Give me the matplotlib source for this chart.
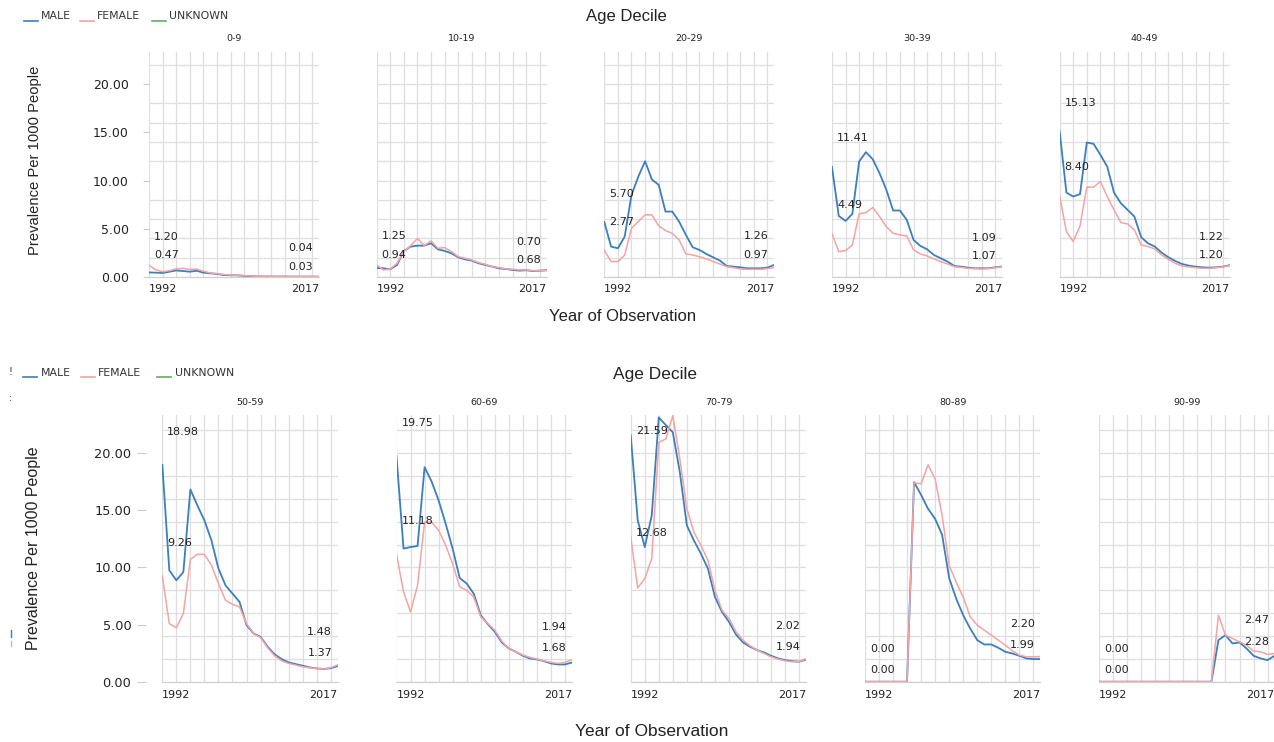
import numpy as np
import matplotlib.pyplot as plt
from matplotlib.lines import Line2D
from matplotlib.ticker import MultipleLocator

# ---- data -------------------------------------------------------------
years = np.arange(1992, 2018)
deciles_top = ['0-9', '10-19', '20-29', '30-39', '40-49']
deciles_bottom = ['50-59', '60-69', '70-79', '80-89', '90-99']
legend_names = ['MALE', 'FEMALE', 'UNKNOWN']
y_ticks = [0, 5, 10, 15, 20]

male_0_9 = [0.47, 0.45, 0.42, 0.55, 0.68, 0.62, 0.55, 0.65, 0.45, 0.38, 0.32, 0.20, 0.18,
            0.17, 0.12, 0.08, 0.06, 0.05, 0.05, 0.05, 0.05, 0.04, 0.04, 0.04, 0.04, 0.03]
female_0_9 = [1.20, 0.75, 0.55, 0.65, 0.85, 0.90, 0.78, 0.82, 0.60, 0.42, 0.35, 0.25, 0.20,
              0.18, 0.14, 0.10, 0.07, 0.06, 0.05, 0.05, 0.05, 0.05, 0.04, 0.04, 0.04, 0.04]
male_10_19 = [0.94, 0.90, 0.80, 1.25, 2.70, 3.15, 3.25, 3.25, 3.50, 2.87, 2.70, 2.46, 2.04,
              1.83, 1.70, 1.42, 1.25, 1.07, 0.90, 0.83, 0.73, 0.66, 0.70, 0.62, 0.66, 0.70]
female_10_19 = [1.25, 0.73, 0.83, 1.42, 2.63, 3.25, 4.00, 3.25, 3.74, 2.98, 3.05, 2.63, 2.11,
                1.94, 1.76, 1.49, 1.31, 1.07, 0.97, 0.83, 0.80, 0.73, 0.73, 0.66, 0.66, 0.68]
male_20_29 = [5.70, 3.15, 2.98, 4.19, 8.50, 10.40, 12.00, 10.10, 9.55, 6.78, 6.78, 5.74, 4.36,
              3.08, 2.80, 2.39, 2.04, 1.70, 1.14, 1.07, 1.00, 0.90, 0.90, 0.90, 0.97, 1.26]
female_20_29 = [2.77, 1.60, 1.60, 2.28, 5.05, 5.74, 6.44, 6.44, 5.30, 4.81, 4.53, 3.84, 2.39,
                2.28, 2.10, 1.87, 1.60, 1.35, 1.07, 0.97, 0.83, 0.80, 0.80, 0.80, 0.87, 0.97]
male_30_39 = [11.41, 6.33, 5.81, 6.54, 11.97, 12.94, 12.20, 10.76, 9.03, 6.89, 6.89, 5.92, 3.84,
              3.22, 2.87, 2.28, 1.94, 1.59, 1.14, 1.07, 0.97, 0.90, 0.90, 0.90, 1.00, 1.09]
female_30_39 = [4.49, 2.63, 2.73, 3.32, 6.54, 6.68, 7.20, 6.26, 5.22, 4.53, 4.36, 4.26, 2.80,
                2.39, 2.18, 1.87, 1.59, 1.35, 1.07, 1.00, 0.90, 0.87, 0.83, 0.87, 0.97, 1.07]
male_40_49 = [15.13, 8.75, 8.34, 8.58, 13.94, 13.80, 12.66, 11.45, 8.75, 7.65, 6.96, 6.26, 4.12,
              3.49, 3.15, 2.53, 2.04, 1.66, 1.35, 1.18, 1.07, 1.00, 0.97, 1.00, 1.07, 1.22]
female_40_49 = [8.40, 4.71, 3.67, 5.29, 9.31, 9.31, 9.90, 8.34, 6.96, 5.64, 5.50, 4.88, 3.32,
                3.15, 2.91, 2.28, 1.83, 1.42, 1.14, 1.04, 0.97, 0.90, 0.90, 0.97, 1.04, 1.20]
male_50_59 = [18.98, 9.75, 8.88, 9.60, 16.83, 15.43, 14.12, 12.37, 9.90, 8.44, 7.71, 6.99, 4.95,
              4.22, 3.93, 3.06, 2.39, 1.98, 1.69, 1.54, 1.40, 1.25, 1.16, 1.11, 1.18, 1.37]
female_50_59 = [9.26, 5.09, 4.72, 5.97, 10.71, 11.15, 11.15, 10.19, 8.59, 7.13, 6.78, 6.55, 5.09,
                4.22, 3.87, 2.97, 2.27, 1.83, 1.60, 1.46, 1.31, 1.22, 1.16, 1.11, 1.22, 1.48]
male_60_69 = [19.75, 11.65, 11.79, 11.88, 18.78, 17.53, 15.87, 13.83, 11.65, 9.08, 8.59, 7.71, 5.82,
              5.04, 4.37, 3.44, 2.91, 2.62, 2.27, 2.04, 1.95, 1.80, 1.60, 1.51, 1.51, 1.68]
female_60_69 = [11.18, 7.86, 6.11, 8.44, 13.97, 13.97, 13.25, 11.94, 10.33, 8.30, 8.01, 7.42, 5.68,
                5.09, 4.51, 3.55, 2.91, 2.62, 2.33, 2.13, 1.98, 1.83, 1.69, 1.60, 1.69, 1.94]
male_70_79 = [21.59, 14.12, 11.79, 14.56, 23.14, 22.47, 21.83, 18.34, 13.68, 12.37, 11.21, 9.90, 7.42,
              6.11, 5.24, 4.13, 3.44, 3.06, 2.77, 2.56, 2.27, 2.04, 1.89, 1.80, 1.75, 1.94]
female_70_79 = [12.68, 8.21, 9.02, 10.77, 20.96, 21.25, 23.29, 19.50, 15.14, 13.10, 11.94, 10.63, 8.01,
                6.26, 5.53, 4.37, 3.64, 3.14, 2.77, 2.47, 2.18, 1.98, 1.83, 1.75, 1.75, 2.02]
male_80_89 = [0.00, 0.00, 0.00, 0.00, 0.00, 0.00, 0.00, 17.47, 16.36, 15.14, 14.26, 12.87, 9.08,
              7.28, 5.82, 4.66, 3.64, 3.26, 3.26, 2.97, 2.62, 2.47, 2.27, 2.04, 1.98, 1.99]
female_80_89 = [0.00, 0.00, 0.00, 0.00, 0.00, 0.00, 0.00, 17.41, 17.32, 18.98, 17.76, 14.56, 10.19,
                8.73, 7.42, 5.68, 4.95, 4.51, 4.08, 3.64, 3.20, 2.71, 2.33, 2.18, 2.18, 2.20]
male_90_99 = [0.00, 0.00, 0.00, 0.00, 0.00, 0.00, 0.00, 0.00, 0.00, 0.00, 0.00, 0.00, 0.00,
              0.00, 0.00, 0.00, 0.00, 3.64, 4.08, 3.35, 3.44, 2.91, 2.27, 2.04, 1.89, 2.28]
female_90_99 = [0.00, 0.00, 0.00, 0.00, 0.00, 0.00, 0.00, 0.00, 0.00, 0.00, 0.00, 0.00, 0.00,
                0.00, 0.00, 0.00, 0.00, 5.82, 4.08, 3.78, 3.49, 3.20, 2.68, 2.62, 2.39, 2.47]

series = {
    '0-9': (male_0_9, female_0_9), '10-19': (male_10_19, female_10_19),
    '20-29': (male_20_29, female_20_29), '30-39': (male_30_39, female_30_39),
    '40-49': (male_40_49, female_40_49), '50-59': (male_50_59, female_50_59),
    '60-69': (male_60_69, female_60_69), '70-79': (male_70_79, female_70_79),
    '80-89': (male_80_89, female_80_89), '90-99': (male_90_99, female_90_99),
}

# ---- style ------------------------------------------------------------
W, H = 1274, 742
BLUE, PINK, GREEN = '#3b7fbf', '#f5a3a3', '#5cb35c'
GRID = '#dedede'
TXT = '#222222'
YMAX = 23.35
PT = 0.72  # points per pixel at dpi 100

fig = plt.figure(figsize=(W / 100, H / 100), dpi=100)


def px_axes(left, top, width, height):
    return fig.add_axes([left / W, 1 - (top + height) / H, width / W, height / H])


def legend(y_line, y_text, line_x, text_x):
    for name, col, lx, tx in zip(legend_names, [BLUE, PINK, GREEN], line_x, text_x):
        fig.add_artist(Line2D([lx / W, (lx + 14) / W], [1 - y_line / H] * 2,
                              transform=fig.transFigure, color=col, lw=1.2))
        fig.text(tx / W, 1 - y_text / H, name, fontsize=7.8, color='#333333',
                 ha='left', va='center', family='DejaVu Sans')


def end_labels(ax, x, vals, ppu, off, gap, dx, ha, tight=False):
    hi, lo = max(vals), min(vals)
    if tight:
        o_hi = o_lo = 3.7
    else:
        o_hi = off
        o_lo = min(lo * ppu + off, hi * ppu + off - gap) - lo * ppu
    for v, o in ((hi, o_hi), (lo, o_lo)):
        ax.annotate(f'{v:.2f}', xy=(x, v), xytext=(dx * PT, o * PT),
                    textcoords='offset points', ha=ha, va='center',
                    fontsize=8, color=TXT, family='DejaVu Sans', annotation_clip=False)


def panel_row(names, left0, step, width, top, height, off, gap, ytick_style, tight=()):
    ppu = height / YMAX
    for i, name in enumerate(names):
        ax = px_axes(left0 + i * step, top, width, height)
        male, female = series[name]
        ax.plot(years, male, color=BLUE, lw=1.3, zorder=3)
        ax.plot(years, female, color=PINK, lw=1.1, zorder=3)
        ax.set_xlim(1992, 2017)
        ax.set_ylim(0, YMAX)
        ax.set_xticks([])
        ax.xaxis.set_minor_locator(MultipleLocator(2))
        ax.yaxis.set_minor_locator(MultipleLocator(2))
        ax.grid(which='minor', color=GRID, lw=0.9, zorder=0)
        ax.tick_params(which='minor', length=0)
        for s in ['top', 'right', 'left']:
            ax.spines[s].set_visible(False)
        ax.spines['bottom'].set_color('#d0d0d0')
        ax.spines['bottom'].set_linewidth(0.9)
        if i == 0:
            ax.set_yticks(y_ticks)
            ax.set_yticklabels([f'{t:.2f}' for t in y_ticks], family='DejaVu Sans')
            outward, length, pad, fs = ytick_style
            if outward:
                ax.spines['left'].set_visible(True)
                ax.spines['left'].set_position(('outward', outward * PT))
                ax.spines['left'].set_color('none')
            ax.tick_params(axis='y', which='major', length=length * PT, color='#cccccc',
                           pad=pad * PT, labelsize=fs, labelcolor=TXT)
        else:
            ax.set_yticks([])
        ax.set_title(name, fontsize=6.8, color=TXT, pad=7.5, family='DejaVu Sans')
        for yr, ha in ((1992, 'left'), (2017, 'right')):
            ax.annotate(str(yr), xy=(yr, 0), xycoords=('data', 'axes fraction'),
                        xytext=(0, -11.5 * height / 225 * PT), textcoords='offset points',
                        ha=ha, va='center', fontsize=8, color=TXT, family='DejaVu Sans')
        end_labels(ax, 1992, [male[0], female[0]], ppu, off, gap, 5, 'left',
                   tight=name in tight)
        end_labels(ax, 2017, [male[-1], female[-1]], ppu, off, gap, -5.7, 'right')
    return ppu


# ---- top chart --------------------------------------------------------
legend(20.7, 16, [24, 80, 152], [40.7, 97.3, 169.3])
fig.text(626 / W, 1 - 16 / H, 'Age Decile', ha='center', va='center', fontsize=12,
         color=TXT, family='Liberation Sans')
panel_row(deciles_top, 149, 227.65, 170, 51.7, 225.3, 28.5, 18.5, (0, 6, 14, 9))
fig.text(35 / W, 1 - 160 / H, 'Prevalence Per 1000 People', rotation=90, ha='center',
         va='center', fontsize=10.6, color=TXT, family='Liberation Sans')
fig.text(623 / W, 1 - 317 / H, 'Year of Observation', ha='center', va='center',
         fontsize=12, color=TXT, family='Liberation Sans')

# ---- bottom chart -----------------------------------------------------
legend(377.5, 372.5, [22.7, 81, 156.7], [40.7, 98.3, 175])
fig.text(655 / W, 1 - 375 / H, 'Age Decile', ha='center', va='center', fontsize=12.5,
         color=TXT, family='Liberation Sans')
panel_row(deciles_bottom, 162.3, 234.2, 175.5, 415, 266.7, 33, 21.7, (16, 9, 6, 9.3),
          tight=('70-79',))
fig.text(33.5 / W, 1 - 548 / H, 'Prevalence Per 1000 People', rotation=90, ha='center',
         va='center', fontsize=11.5, color=TXT, family='Liberation Sans')
fig.text(652 / W, 1 - 732 / H, 'Year of Observation', ha='center', va='center',
         fontsize=12.5, color=TXT, family='Liberation Sans')

# cropped remnants of a neighbouring chart at the left edge of the lower shot
fig.text(10 / W, 1 - 372 / H, '!', ha='center', va='center', fontsize=7, color='#333333')
fig.text(10 / W, 1 - 398 / H, ':', ha='center', va='center', fontsize=7, color='#333333')
fig.add_artist(Line2D([11 / W] * 2, [1 - 630 / H, 1 - 637 / H], transform=fig.transFigure,
                      color=BLUE, lw=1))
fig.add_artist(Line2D([11 / W] * 2, [1 - 641 / H, 1 - 646 / H], transform=fig.transFigure,
                      color=PINK, lw=1))

fig.savefig('out.png', dpi=100)
